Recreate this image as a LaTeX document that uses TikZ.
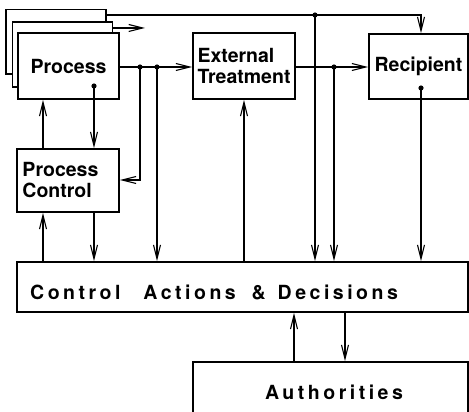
\documentclass[tikz,border=0pt]{standalone}
\usepackage{fontspec}
\setmainfont{TeX Gyre Heros}
\newfontfamily\spacedfont[LetterSpace=18]{TeX Gyre Heros}
\usetikzlibrary{arrows.meta}
\begin{document}
\begin{tikzpicture}[x=1pt,y=-1pt,
  box/.style={draw,line width=1.6pt,fill=white,inner sep=0pt,
    font=\bfseries\fontsize{19.5}{21}\selectfont},
  conn/.style={line width=1.1pt},
  arr/.style={conn,-{Straight Barb[length=14pt,width=7pt]}},
  dot/.style={fill=black}]
\useasboundingbox (0,0) rectangle (469,412);
\clip (0,0) rectangle (469,412);
% process stack
\node[box,minimum width=100pt,minimum height=64.5pt] (procback) at (56,41.75) {};
\node[box,minimum width=100pt,minimum height=65pt] (procmid) at (62.5,54.5) {};
\node[box,minimum width=101pt,minimum height=66pt] (proc) at (68.5,66) {Process};
\node[box,minimum width=102pt,minimum height=66pt,text width=93pt,align=left] (ext) at (244,66) {External\\Treatment};
\node[box,minimum width=99pt,minimum height=65pt] (rec) at (418.5,66.5) {Recipient};
\node[box,minimum width=102pt,minimum height=63pt,text width=91pt,align=left] (pc) at (68,180.5) {Process\\Control};
\node[box,minimum width=451pt,minimum height=50pt] (ca) at (242.5,287) {};
\node[anchor=west,inner sep=0pt,font=\spacedfont\bfseries\fontsize{19.5}{21}\selectfont] (catext) at (30,292)
  {Control\hspace{14pt} Actions\hspace{7pt} \&\hspace{3pt} Decisions};
\node[box,minimum width=275pt,minimum height=60pt] (auth) at (330.5,392) {};
\node[inner sep=0pt,font=\spacedfont\bfseries\fontsize{19.5}{21}\selectfont] (authtext) at (334,392) {Authorities};
% coordinates
\coordinate (topj) at (315,15);
\coordinate (midend) at (145,28);
\coordinate (j1) at (140,67);
\coordinate (j2) at (157,67);
\coordinate (j3) at (334,67);
\coordinate (procdot) at (94,86);
\coordinate (recdot) at (421,88);
\coordinate (pcbend) at (140,180);
\coordinate (lx) at (43,0);
\coordinate (ax) at (294,0);
\coordinate (bx) at (345,0);
% connectors
\draw[arr] (procback.east |- topj) -| (rec.north -| recdot);
\draw[arr] (topj) -- (topj |- ca.north);
\draw[arr] (procmid.east |- midend) -- (midend);
\draw[arr] (proc.east |- j1) -- (ext.west |- j1);
\draw[arr] (ext.east |- j3) -- (rec.west |- j3);
\draw[arr] (procdot) -- (procdot |- pc.north);
\draw[arr] (j1) |- (pc.east |- pcbend);
\draw[arr] (j2) -- (j2 |- ca.north);
\draw[arr] (j3) -- (j3 |- ca.north);
\draw[arr] (recdot) -- (recdot |- ca.north);
\draw[arr] (ext.south |- ca.north) -- (ext.south);
\draw[arr] (pc.north -| lx) -- (proc.south -| lx);
\draw[arr] (ca.north -| lx) -- (pc.south -| lx);
\draw[arr] (pc.south -| procdot) -- (ca.north -| procdot);
\draw[arr] (auth.north -| ax) -- (ca.south -| ax);
\draw[arr] (ca.south -| bx) -- (auth.north -| bx);
% dots
\foreach \p in {topj,j1,j2,j3,procdot,recdot} \fill[dot] (\p) circle (2.6);
\end{tikzpicture}
\end{document}
